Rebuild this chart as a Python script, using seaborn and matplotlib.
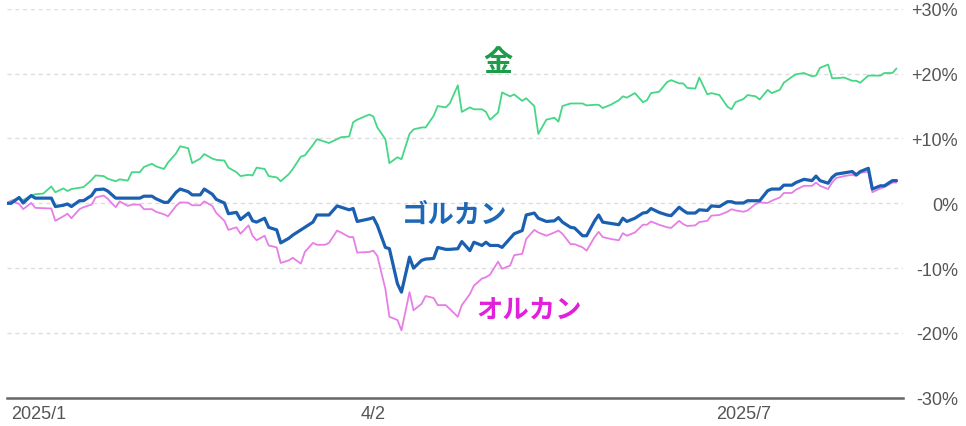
import pandas as pd
import matplotlib
matplotlib.use("Agg")
import matplotlib.pyplot as plt
import seaborn as sns

sns.set_style("white")
plt.rcParams['font.family'] = ['Liberation Sans', 'Noto Sans CJK JP', 'DejaVu Sans']

# days since 2025-01-01
days = [0, 1, 3, 4, 6, 7, 9, 11, 12, 14, 15, 16, 18, 19, 21, 22, 24, 25, 27, 28, 30, 31, 33, 34, 36, 37, 39, 40, 42, 43,
        45, 46, 48, 49, 51, 52, 54, 55, 57, 58, 60, 61, 62, 64, 65, 67, 68, 70, 71, 73, 74, 76, 77, 79, 80, 82, 83, 85, 86, 87,
        90, 91, 92, 94, 95, 97, 98, 100, 101, 103, 104, 106, 107, 109, 110, 112, 113, 115, 116, 118, 119, 120, 122, 123, 125, 126, 128, 129, 131, 132,
        134, 136, 137, 138, 140, 141, 143, 144, 146, 147, 148, 150, 152, 153, 154, 156, 158, 159, 160, 162, 164, 165, 167, 168, 169, 171, 172, 174, 175, 177,
        179, 180, 181, 183, 184, 186, 187, 189, 190, 192, 193, 195, 196, 198, 200, 201, 202, 204, 205, 206, 208, 210, 211, 212, 214, 215, 217, 218, 220, 221]

gold = [0, 0.4, 0.8, 0.5, 1.2, 1.4, 1.5, 2.6, 1.7, 2.3, 1.9, 2.2, 2.4, 2.5, 3.6, 4.3, 4.2, 3.8, 3.4, 3.7, 3.5, 4.8, 4.8, 5.6, 6.1, 5.7, 5.3, 6.3, 7.7, 8.8,
        8.5, 6.2, 6.9, 7.6, 6.9, 6.7, 6.6, 5.5, 4.8, 4.2, 4.4, 4.3, 5.5, 5.3, 4.2, 4.0, 3.4, 4.5, 5.3, 7.2, 7.4, 9.0, 9.9, 9.5, 9.3, 9.9, 10.2, 10.3, 12.5, 12.9,
        13.7, 13.4, 11.7, 9.9, 6.2, 7.1, 6.8, 10.7, 11.4, 11.7, 11.7, 13.5, 15.0, 14.8, 15.4, 18.2, 14.1, 14.8, 14.5, 14.5, 14.1, 12.9, 14.0, 17.1, 16.5, 16.8, 15.8, 16.2, 15.0, 10.7,
        12.9, 13.2, 12.6, 15.0, 15.4, 15.4, 15.4, 15.1, 15.2, 15.2, 14.7, 15.2, 15.9, 16.5, 16.3, 17.0, 15.6, 15.9, 17.0, 17.2, 18.7, 19.0, 18.5, 18.5, 17.8, 17.7, 19.4, 16.8, 17.0, 16.7,
        14.9, 14.5, 15.6, 16.1, 16.7, 16.5, 16.0, 17.5, 17.0, 17.5, 18.6, 19.5, 19.9, 20.1, 19.6, 19.7, 20.9, 21.4, 19.3, 19.3, 19.4, 18.9, 18.9, 18.6, 19.7, 19.7, 19.7, 20.1, 20.1, 20.8]

golcan = [0, 0, 0.9, 0.05, 1.2, 0.8, 0.8, 0.8, -0.5, -0.3, -0.1, -0.5, 0.4, 0.4, 1.2, 2.1, 2.2, 1.9, 0.8, 0.8, 0.8, 0.8, 0.8, 1.1, 1.1, 0.7, 0.15, 0.15, 1.7, 2.2,
          1.8, 1.3, 1.3, 2.2, 1.4, 0.6, 0.05, -1.6, -1.4, -2.5, -1.5, -2.7, -2.9, -2.3, -3.7, -4.1, -6.1, -5.4, -4.9, -4.1, -3.7, -2.9, -1.8, -1.8, -1.8, -0.4, -0.6, -1.0, -0.8, -2.8,
          -2.4, -2.2, -3.4, -6.8, -7.0, -12.4, -13.7, -8.3, -10.0, -8.8, -8.6, -8.5, -6.8, -7.1, -7.1, -7.0, -5.9, -7.3, -6.0, -6.5, -6.0, -6.5, -6.5, -6.8, -5.4, -4.7, -4.2, -1.8, -1.5, -2.3,
          -2.8, -2.7, -2.2, -2.9, -3.7, -3.8, -5.0, -5.0, -2.7, -1.8, -2.9, -3.1, -3.3, -2.3, -2.8, -2.3, -1.5, -1.4, -0.8, -1.4, -1.8, -1.9, -0.6, -1.1, -1.5, -1.5, -1.0, -1.1, -0.4, -0.5,
          0.25, 0.25, 0.05, 0.05, 0.4, 0.4, 0.4, 1.95, 2.2, 2.2, 2.8, 2.8, 3.2, 3.7, 3.5, 4.2, 3.5, 3.1, 4.0, 4.5, 4.7, 4.9, 4.4, 4.9, 5.4, 2.2, 2.7, 2.7, 3.5, 3.5]

orcan = [0, 0.4, -0.1, -0.9, 0.05, -0.7, -0.75, -0.8, -2.7, -2.0, -1.6, -2.3, -0.9, -0.6, -0.2, 0.9, 1.2, 0.7, -0.6, 0.3, -0.4, -0.2, -0.2, -0.9, -0.9, -1.3, -1.7, -2.0, -0.4, 0.15,
         0.1, -0.3, -0.3, 0.3, -0.4, -1.5, -2.7, -4.1, -3.7, -4.7, -3.4, -5.0, -5.7, -5.0, -6.5, -6.8, -9.2, -8.8, -8.4, -9.3, -7.5, -6.1, -6.4, -6.4, -6.1, -4.2, -4.5, -5.2, -5.2, -7.6,
         -7.5, -7.3, -8.1, -13.2, -17.5, -18.0, -19.6, -13.7, -16.5, -15.5, -14.3, -14.6, -15.7, -15.7, -16.3, -17.5, -15.7, -14.0, -12.7, -11.6, -11.4, -11.0, -9.0, -10.1, -9.6, -8.0, -7.8, -5.5, -4.1, -4.5,
         -5.0, -4.5, -4.2, -4.7, -6.3, -6.3, -6.8, -7.3, -5.2, -4.4, -5.2, -5.5, -5.7, -4.6, -5.0, -4.5, -3.3, -3.3, -2.8, -3.3, -3.7, -3.8, -2.7, -3.2, -3.5, -3.4, -2.9, -2.7, -1.9, -1.8,
         -1.3, -0.9, -1.1, -1.3, -1.1, -0.1, 0.15, 0.05, 0.4, 0.9, 1.6, 1.6, 2.1, 2.7, 2.7, 3.2, 2.7, 2.2, 3.2, 3.9, 4.2, 4.4, 4.2, 4.7, 4.9, 1.7, 2.3, 2.5, 3.2, 3.2]

yticks = [-30, -20, -10, 0, 10, 20, 30]
ytick_labels = ['-30%', '-20%', '-10%', '0%', '+10%', '+20%', '+30%']
xtick_dates = ['2025-01-02', '2025-04-02', '2025-07-03']
xtick_labels = ['2025/1', '4/2', '2025/7']

base = pd.Timestamp('2025-01-01')
df = pd.DataFrame({'date': base + pd.to_timedelta(days, unit='D'),
                   'gold': gold, 'golcan': golcan, 'orcan': orcan})

fig = plt.figure(figsize=(9.66, 4.27), dpi=100)
ax = fig.add_axes([0.0073, 0.066, 0.927, 0.911])

sns.lineplot(data=df, x='date', y='gold', color='#45d786', lw=1.3, ax=ax, zorder=3)
sns.lineplot(data=df, x='date', y='orcan', color='#e77ee6', lw=1.3, ax=ax, zorder=4)
sns.lineplot(data=df, x='date', y='golcan', color='#1b5fb1', lw=2.3, ax=ax, zorder=5)

ax.set_xlim(base, base + pd.Timedelta(days=222.5))
ax.set_ylim(-30, 30)
ax.set_xlabel('')
ax.set_ylabel('')

ax.yaxis.tick_right()
ax.set_yticks(yticks)
ax.set_yticklabels(ytick_labels, fontsize=13, color='#555555')
for lbl in ax.get_yticklabels():
    lbl.set_horizontalalignment('right')
ax.tick_params(axis='y', length=0, pad=40)

ax.set_xticks(pd.to_datetime(xtick_dates))
ax.set_xticklabels(xtick_labels, fontsize=13, color='#555555')
ax.get_xticklabels()[0].set_horizontalalignment('left')
ax.tick_params(axis='x', length=0, pad=5)

ax.grid(axis='y', color='#dddddd', linestyle=(0, (3, 2.6)), lw=1.0)
ax.grid(axis='x', visible=False)
for s in ['top', 'left', 'right']:
    ax.spines[s].set_visible(False)
ax.spines['bottom'].set_color('#666666')
ax.spines['bottom'].set_linewidth(1.8)
ax.spines['bottom'].set_zorder(6)

jp = ['Noto Sans CJK JP', 'DejaVu Sans']
ax.text(base + pd.Timedelta(days=122), 21.9, '金', family=jp, fontsize=21, fontweight='bold',
        color='#1e9c4c', ha='center', va='center')
ax.text(base + pd.Timedelta(days=111.3), -1.6, 'ゴルカン', family=jp, fontsize=19, fontweight='bold',
        color='#1f68b6', ha='center', va='center')
ax.text(base + pd.Timedelta(days=129.7), -16.4, 'オルカン', family=jp, fontsize=19, fontweight='bold',
        color='#e21fdb', ha='center', va='center')

fig.savefig('out.png', dpi=100)
